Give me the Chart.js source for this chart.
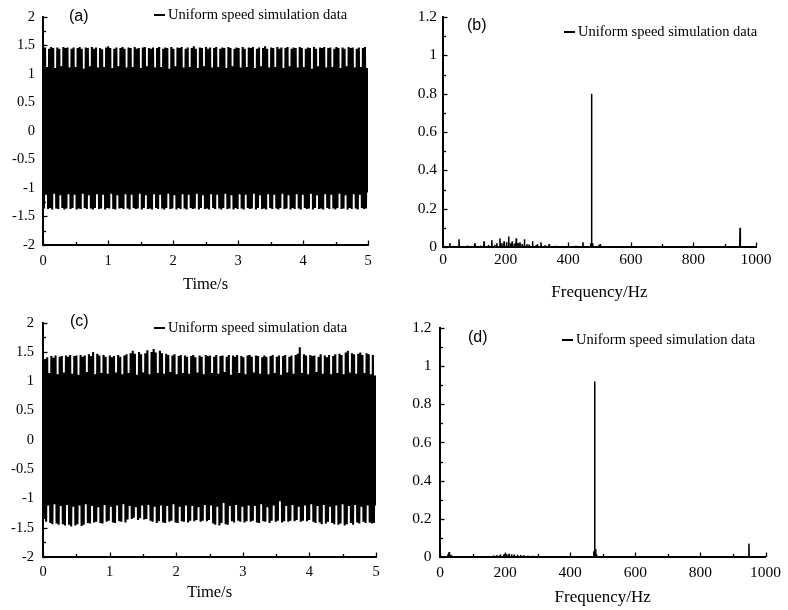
<!DOCTYPE html>
<html>
<head>
<meta charset="utf-8">
<script src="https://cdn.jsdelivr.net/npm/chart.js@4.4.0/dist/chart.umd.min.js"></script>
<style>
  html, body { margin: 0; padding: 0; background: #fff; }
  #wrap { position: relative; width: 788px; height: 610px; }
  .cell { position: absolute; width: 394px; height: 305px; }
  canvas { display: block; }
</style>
</head>
<body>
<div id="wrap">
  <div class="cell" style="left:0;top:0"><canvas id="cA" width="394" height="305"></canvas></div>
  <div class="cell" style="left:394px;top:0"><canvas id="cB" width="394" height="305"></canvas></div>
  <div class="cell" style="left:0;top:305px"><canvas id="cC" width="394" height="305"></canvas></div>
  <div class="cell" style="left:394px;top:305px"><canvas id="cD" width="394" height="305"></canvas></div>
</div>
<script>
// ---------------- DATA ----------------
const seriesLabel = "Uniform speed simulation data";
const panelLabels = ["(a)", "(b)", "(c)", "(d)"];
const timeTitle = "Time/s";
const freqTitle = "Frequency/Hz";

// (a) successive upper / lower extremes of the time signal (uniformly spaced over 0-5 s)
const peaksA = [
  1.45,1.46,1.12,1.44,1.47,1.45,1.10,1.46,1.44,1.13,
  1.47,1.45,1.46,1.11,1.44,1.46,1.12,1.45,1.47,1.44,
  1.09,1.46,1.45,1.13,1.47,1.44,1.46,1.11,1.45,1.43,
  1.12,1.46,1.48,1.45,1.10,1.44,1.46,1.13,1.45,1.47,
  1.44,1.11,1.46,1.45,1.12,1.47,1.44,1.45,1.10,1.46,
  1.47,1.13,1.45,1.44,1.46,1.11,1.45,1.47,1.12,1.44,
  1.46,1.45,1.09,1.47,1.44,1.13,1.46,1.45,1.47,1.11,
  1.44,1.46,1.12,1.45,1.48,1.44,1.10,1.46,1.45,1.13,
  1.47,1.44,1.46,1.11,1.45,1.47,1.12,1.44,1.46,1.45,
  1.10,1.47,1.45,1.13,1.44,1.46,1.45,1.11,1.47,1.44,
  1.12,1.46,1.45,1.47,1.10,1.44,1.46,1.13,1.45,1.48,
  1.44,1.11,1.46,1.45,1.12,1.47,1.44,1.46,1.10,1.45,
  1.47,1.13,1.44,1.46,1.45,1.11,1.47,1.45,1.12,1.44,
  1.46,1.45,1.09,1.47,1.44,1.13,1.46,1.45,1.47,1.11,
  1.45,1.46,1.12,1.44,1.47,1.45,1.10,1.46,1.44,1.13,
  1.47,1.45,1.46,1.11,1.44,1.46,1.12,1.45,1.47,1.10];
const troughsA = [
  -1.36,-1.12,-1.37,-1.35,-1.38,-1.10,-1.36,-1.37,-1.13,-1.35,
  -1.38,-1.36,-1.11,-1.37,-1.35,-1.12,-1.38,-1.36,-1.37,-1.10,
  -1.35,-1.37,-1.13,-1.36,-1.38,-1.35,-1.11,-1.37,-1.36,-1.12,
  -1.38,-1.35,-1.36,-1.10,-1.37,-1.38,-1.13,-1.36,-1.35,-1.37,
  -1.11,-1.36,-1.38,-1.12,-1.35,-1.37,-1.36,-1.10,-1.38,-1.35,
  -1.13,-1.37,-1.36,-1.38,-1.11,-1.35,-1.37,-1.12,-1.36,-1.38,
  -1.35,-1.10,-1.37,-1.36,-1.13,-1.38,-1.35,-1.37,-1.11,-1.36,
  -1.38,-1.12,-1.35,-1.37,-1.36,-1.10,-1.38,-1.35,-1.13,-1.37,
  -1.36,-1.38,-1.11,-1.35,-1.37,-1.12,-1.36,-1.38,-1.35,-1.10,
  -1.37,-1.36,-1.13,-1.38,-1.35,-1.37,-1.11,-1.36,-1.38,-1.12,
  -1.35,-1.37,-1.36,-1.10,-1.38,-1.35,-1.13,-1.37,-1.36,-1.38,
  -1.11,-1.35,-1.37,-1.12,-1.36,-1.38,-1.35,-1.10,-1.37,-1.36,
  -1.13,-1.38,-1.35,-1.37,-1.11,-1.36,-1.38,-1.12,-1.35,-1.37,
  -1.36,-1.10,-1.38,-1.35,-1.13,-1.37,-1.36,-1.38,-1.11,-1.35,
  -1.37,-1.12,-1.36,-1.38,-1.35,-1.10,-1.37,-1.36,-1.13,-1.38,
  -1.35,-1.37,-1.11,-1.36,-1.38,-1.12,-1.35,-1.37,-1.36,-1.08];

// (b) spectrum spikes: frequency (Hz) and amplitude
const freqB = [22,51,78,102,120,131,145,156,165,172,182,188,195,203,210,216,221,228,234,240,
  246,253,260,268,275,286,298,313,326,339,360,380,425,447,472,475,478,499,530,650,949,999];
const ampB  = [0.02,0.04,0.008,0.02,0.008,0.03,0.01,0.035,0.012,0.02,0.045,0.02,0.03,0.025,0.055,0.02,0.03,0.018,0.045,0.02,
  0.025,0.015,0.04,0.015,0.012,0.03,0.01,0.025,0.008,0.015,0.006,0.005,0.005,0.025,0.02,0.80,0.02,0.012,0.004,0.003,0.10,0.004];

// (c) successive upper / lower extremes of the time signal
const peaksC = [
  1.28,1.38,1.41,1.14,1.43,1.40,1.44,1.12,1.42,1.43,
  1.15,1.44,1.42,1.45,1.13,1.43,1.44,1.11,1.45,1.42,
  1.44,1.16,1.46,1.43,1.50,1.12,1.47,1.44,1.14,1.45,
  1.42,1.13,1.44,1.41,1.43,1.15,1.45,1.42,1.12,1.44,
  1.46,1.14,1.48,1.52,1.47,1.11,1.50,1.46,1.15,1.48,
  1.53,1.12,1.50,1.55,1.49,1.14,1.52,1.48,1.13,1.47,
  1.45,1.16,1.44,1.46,1.12,1.43,1.45,1.14,1.44,1.42,
  1.13,1.43,1.45,1.41,1.15,1.44,1.42,1.12,1.45,1.43,
  1.44,1.14,1.42,1.45,1.13,1.43,1.44,1.16,1.42,1.45,
  1.11,1.44,1.42,1.45,1.14,1.43,1.41,1.12,1.44,1.45,
  1.42,1.15,1.44,1.43,1.13,1.41,1.44,1.42,1.12,1.43,
  1.45,1.14,1.42,1.44,1.11,1.43,1.45,1.15,1.42,1.44,
  1.13,1.45,1.47,1.58,1.14,1.46,1.44,1.12,1.45,1.43,
  1.44,1.16,1.42,1.46,1.13,1.44,1.41,1.45,1.12,1.43,
  1.46,1.14,1.47,1.45,1.12,1.49,1.52,1.15,1.48,1.46,
  1.13,1.47,1.49,1.45,1.14,1.48,1.46,1.12,1.45,1.10];
const troughsC = [
  -1.35,-1.40,-1.12,-1.42,-1.44,-1.10,-1.43,-1.45,-1.13,-1.44,
  -1.46,-1.11,-1.45,-1.48,-1.14,-1.46,-1.44,-1.12,-1.47,-1.45,
  -1.10,-1.42,-1.43,-1.13,-1.41,-1.40,-1.15,-1.42,-1.43,-1.11,
  -1.40,-1.38,-1.14,-1.41,-1.42,-1.12,-1.39,-1.40,-1.10,-1.41,
  -1.36,-1.13,-1.35,-1.33,-1.15,-1.37,-1.34,-1.12,-1.36,-1.35,
  -1.11,-1.38,-1.40,-1.14,-1.42,-1.39,-1.12,-1.41,-1.42,-1.13,
  -1.40,-1.38,-1.10,-1.41,-1.42,-1.14,-1.39,-1.40,-1.12,-1.41,
  -1.38,-1.13,-1.39,-1.37,-1.15,-1.40,-1.38,-1.11,-1.39,-1.37,
  -1.12,-1.43,-1.45,-1.14,-1.46,-1.42,-1.08,-1.44,-1.45,-1.13,
  -1.39,-1.41,-1.11,-1.38,-1.40,-1.14,-1.41,-1.39,-1.12,-1.40,
  -1.38,-1.13,-1.41,-1.42,-1.10,-1.39,-1.40,-1.15,-1.42,-1.38,
  -1.12,-1.40,-1.38,-1.05,-1.41,-1.39,-1.13,-1.40,-1.38,-1.11,
  -1.39,-1.37,-1.14,-1.40,-1.38,-1.12,-1.39,-1.37,-1.10,-1.40,
  -1.42,-1.13,-1.41,-1.44,-1.11,-1.43,-1.40,-1.14,-1.42,-1.44,
  -1.12,-1.45,-1.43,-1.10,-1.46,-1.44,-1.13,-1.42,-1.45,-1.11,
  -1.41,-1.43,-1.14,-1.40,-1.42,-1.12,-1.41,-1.43,-1.42,-1.12];

// (d) spectrum spikes
const freqD = [25,28,32,36,165,175,185,195,200,205,212,220,228,238,248,258,270,285,300,472,475,478,481,949];
const ampD  = [0.015,0.026,0.012,0.008,0.008,0.01,0.012,0.013,0.016,0.014,0.017,0.015,0.013,0.012,0.01,0.009,0.007,0.006,0.004,0.03,0.92,0.04,0.015,0.07];

// axis ranges / tick steps
const timeRange = [0, 5], timeStep = 1, ampTimeRange = [-2, 2], ampTimeStep = 0.5;
const freqRange = [0, 1000], freqStep = 200, ampFreqRange = [0, 1.2], ampFreqStep = 0.2;

// ---------------- BUILDERS ----------------
function zigzag(peaks, troughs, tMax) {
  const n = peaks.length * 2;
  const pts = [];
  for (let i = 0; i < peaks.length; i++) {
    pts.push({ x: (2 * i) * tMax / (n - 1), y: peaks[i] });
    pts.push({ x: (2 * i + 1) * tMax / (n - 1), y: troughs[i] });
  }
  return pts;
}
function spectrum(freqs, amps, fMax) {
  const pts = [{ x: 0, y: 0 }];
  freqs.forEach((f, i) => {
    pts.push({ x: f - 1, y: 0 }, { x: f, y: amps[i] }, { x: f + 1, y: 0 });
  });
  pts.push({ x: fMax, y: 0 });
  return pts;
}
const fmt = v => String(+Number(v).toFixed(6));

Chart.defaults.font.family = '"Liberation Serif", "Times New Roman", serif';
Chart.defaults.color = '#000';

const decor = {
  id: 'decor',
  afterDraw(chart, args, o) {
    const ctx = chart.ctx, ca = chart.chartArea;
    const xs = chart.scales.x, ys = chart.scales.y;
    ctx.save();
    ctx.strokeStyle = '#000';
    ctx.lineWidth = 1.3;
    const eps = 1e-9;
    for (let k = 0; xs.min + k * o.xMinor <= xs.max + eps; k++) {
      const v = xs.min + k * o.xMinor;
      const major = Math.abs(v / o.xMajor - Math.round(v / o.xMajor)) < 1e-6;
      const px = Math.round(xs.getPixelForValue(v)) + 0.5;
      ctx.beginPath(); ctx.moveTo(px, ca.bottom); ctx.lineTo(px, ca.bottom - (major ? 4.5 : 3)); ctx.stroke();
    }
    for (let k = 0; ys.min + k * o.yMinor <= ys.max + eps; k++) {
      const v = ys.min + k * o.yMinor;
      const major = Math.abs(v / o.yMajor - Math.round(v / o.yMajor)) < 1e-6;
      const py = Math.round(ys.getPixelForValue(v)) + 0.5;
      ctx.beginPath(); ctx.moveTo(ca.left, py); ctx.lineTo(ca.left + (major ? 4.5 : 3), py); ctx.stroke();
    }
    ctx.fillStyle = '#000';
    ctx.font = '16px "Liberation Sans", Arial, sans-serif';
    ctx.textAlign = 'left'; ctx.textBaseline = 'middle';
    ctx.fillText(o.label, o.labelX, o.labelY);
    const ds = chart.data.datasets[0];
    ctx.strokeStyle = ds.borderColor; ctx.lineWidth = 2;
    ctx.beginPath(); ctx.moveTo(o.legX, o.legY); ctx.lineTo(o.legX + 11, o.legY); ctx.stroke();
    ctx.font = '14.5px "Liberation Serif", "Times New Roman", serif';
    ctx.fillText(ds.label, o.legX + 14, o.legY + 0.5);
    ctx.restore();
  }
};

function makePanel(id, data, p) {
  new Chart(document.getElementById(id), {
    type: 'line',
    data: { datasets: [{ label: seriesLabel, data, borderColor: '#000', borderWidth: p.lw, borderJoinStyle: 'bevel', pointRadius: 0, fill: false, tension: 0 }] },
    options: {
      responsive: false, animation: false, events: [], devicePixelRatio: 1,
      layout: { padding: { left: 0, top: p.top, right: p.right, bottom: 0 } },
      plugins: { legend: { display: false }, tooltip: { enabled: false }, decor: p.decor },
      scales: {
        x: {
          type: 'linear', min: p.xRange[0], max: p.xRange[1],
          border: { display: true, width: 2, color: '#000' },
          grid: { display: true, drawOnChartArea: false, drawTicks: false },
          ticks: { stepSize: p.xStep, padding: p.xPad, font: { size: p.tickSize }, color: '#000', maxRotation: 0, autoSkip: false, callback: fmt },
          title: { display: true, text: p.xTitle, font: { size: p.titleSize }, color: '#000', padding: { top: 0, bottom: p.titlePad } },
          afterFit: s => { s.height = p.xHeight; }
        },
        y: {
          type: 'linear', min: p.yRange[0], max: p.yRange[1],
          border: { display: true, width: 2, color: '#000' },
          grid: { display: true, drawOnChartArea: false, drawTicks: false },
          ticks: { stepSize: p.yStep, padding: p.yPad, font: { size: p.tickSize }, color: '#000', autoSkip: false, callback: fmt },
          afterFit: s => { s.width = p.yWidth; }
        }
      }
    },
    plugins: [decor]
  });
}

makePanel('cA', zigzag(peaksA, troughsA, timeRange[1]), {
  lw: 2.1, top: 12, right: 26, xHeight: 60, yWidth: 43,
  xRange: timeRange, xStep: timeStep, yRange: ampTimeRange, yStep: ampTimeStep,
  xPad: 7, yPad: 8, tickSize: 14.5, titleSize: 16.5, titlePad: 10, xTitle: timeTitle,
  decor: { xMajor: 1, xMinor: 0.5, yMajor: 0.5, yMinor: 0.25, label: panelLabels[0], labelX: 69, labelY: 17, legX: 154, legY: 15 }
});
makePanel('cB', spectrum(freqB, ampB, freqRange[1]), {
  lw: 1.5, top: 17, right: 32, xHeight: 58, yWidth: 49,
  xRange: freqRange, xStep: freqStep, yRange: ampFreqRange, yStep: ampFreqStep,
  xPad: 4, yPad: 6, tickSize: 15.5, titleSize: 17, titlePad: 2, xTitle: freqTitle,
  decor: { xMajor: 200, xMinor: 100, yMajor: 0.2, yMinor: 0.1, label: panelLabels[1], labelX: 73, labelY: 26, legX: 170, legY: 32 }
});
makePanel('cC', zigzag(peaksC, troughsC, timeRange[1]), {
  lw: 2.1, top: 15, right: 18, xHeight: 53, yWidth: 43,
  xRange: timeRange, xStep: timeStep, yRange: ampTimeRange, yStep: ampTimeStep,
  xPad: 6, yPad: 9, tickSize: 14.5, titleSize: 16.5, titlePad: 7, xTitle: timeTitle,
  decor: { xMajor: 1, xMinor: 0.5, yMajor: 0.5, yMinor: 0.25, label: panelLabels[2], labelX: 70, labelY: 17, legX: 154, legY: 23 }
});
makePanel('cD', spectrum(freqD, ampD, freqRange[1]), {
  lw: 1.5, top: 23, right: 15, xHeight: 53, yWidth: 46,
  xRange: freqRange, xStep: freqStep, yRange: ampFreqRange, yStep: ampFreqStep,
  xPad: 7, yPad: 8.5, tickSize: 15.5, titleSize: 17, titlePad: 2, xTitle: freqTitle,
  decor: { xMajor: 200, xMinor: 100, yMajor: 0.2, yMinor: 0.1, label: panelLabels[3], labelX: 74, labelY: 33, legX: 168, legY: 35 }
});
</script>
</body>
</html>
